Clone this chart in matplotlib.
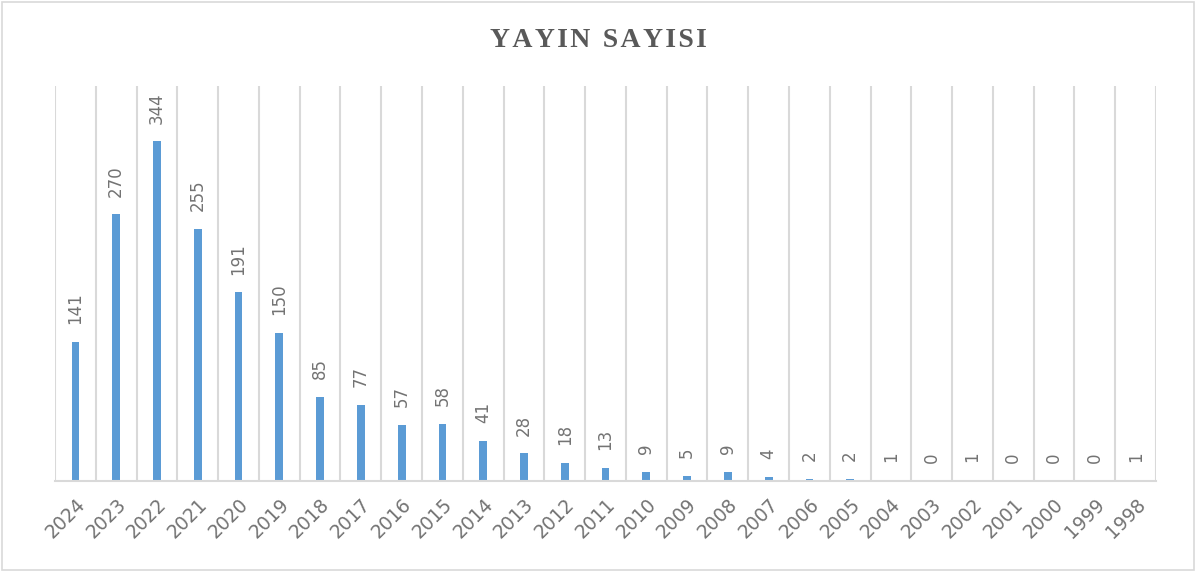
import matplotlib.pyplot as plt
import numpy as np

# Data
years = ["2024", "2023", "2022", "2021", "2020", "2019", "2018", "2017", "2016",
         "2015", "2014", "2013", "2012", "2011", "2010", "2009", "2008", "2007",
         "2006", "2005", "2004", "2003", "2002", "2001", "2000", "1999", "1998"]
counts = [141, 270, 344, 255, 191, 150, 85, 77, 57, 58, 41, 28, 18, 13, 9, 5, 9, 4,
          2, 2, 1, 0, 1, 0, 0, 0, 1]

grey = "#595959"
light = "#737373"
grid = "#D9D9D9"

fig = plt.figure(figsize=(11.96, 5.72), dpi=100)
ax = fig.add_axes([0.046, 0.159, 0.9206, 0.6907])

x = np.arange(len(years))
ax.bar(x, counts, width=0.19, color="#5B9BD5", zorder=3)

# Value labels above each bar
for xi, v in zip(x, counts):
    ax.text(xi, v + 18, str(v), rotation=90, ha="center", va="bottom",
            fontsize=12, color=light)

ax.set_xlim(-0.5, len(years) - 0.5)
ax.set_ylim(0, 400)

# Vertical lines at category boundaries
for b in np.arange(-0.5, len(years), 1.0):
    ax.axvline(b, color=grid, linewidth=1.5, zorder=1)

ax.set_xticks(x)
ax.set_xticklabels(years, rotation=45, ha="right", rotation_mode="anchor",
                   fontsize=13.5, color=light)
ax.tick_params(axis="x", length=0, pad=10)
ax.set_yticks([])

for s in ["top", "right", "left"]:
    ax.spines[s].set_visible(False)
ax.spines["bottom"].set_color(grid)
ax.spines["bottom"].set_linewidth(1.5)
ax.spines["bottom"].set_zorder(4)

fig.text(0.5, 0.93, "\u200a".join("YAYIN") + " \u2009" + "\u200a".join("SAYISI"),
         ha="center", va="center", fontsize=20, fontweight="bold",
         family=["Liberation Serif", "DejaVu Serif"], color=grey)

# Outer border
fig.patches.append(plt.Rectangle((0.002, 0.003), 0.996, 0.994, transform=fig.transFigure,
                                 fill=False, edgecolor=grid, linewidth=1.2))

fig.savefig("out.png", dpi=100)
